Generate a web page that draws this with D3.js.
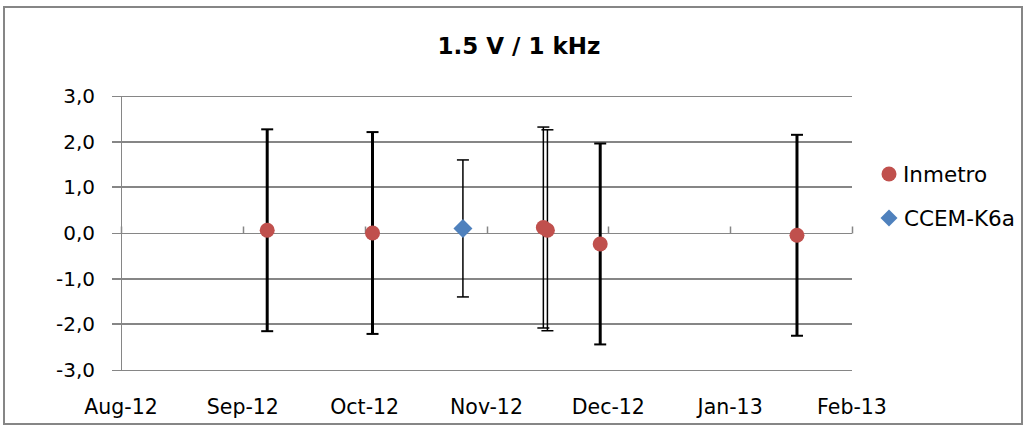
<!DOCTYPE html>
<html>
<head>
<meta charset="utf-8">
<script src="https://cdn.jsdelivr.net/npm/d3@7/dist/d3.min.js"></script>
<style>
  html, body { margin: 0; padding: 0; background: #fff; }
  svg { display: block; }
  text { font-family: "DejaVu Sans", sans-serif; fill: #000; }
</style>
</head>
<body>
<svg id="chart" width="1026" height="426"></svg>
<script>
// ---- data ----
const title = "1.5 V / 1 kHz";
const monthLabels = ["Aug-12", "Sep-12", "Oct-12", "Nov-12", "Dec-12", "Jan-13", "Feb-13"];
const yTicks = [-3, -2, -1, 0, 1, 2, 3];

const inmetroDates  = ["2012-09-07", "2012-10-03", "2012-11-15", "2012-11-16", "2012-11-29", "2013-01-18"];
const inmetroValues = [0.06, 0.00, 0.12, 0.06, -0.24, -0.05];
const inmetroU      = [2.21, 2.21, 2.20, 2.20, 2.20, 2.20];

const ccemDates  = ["2012-10-26"];
const ccemValues = [0.10];
const ccemU      = [1.50];

const seriesNames = ["Inmetro", "CCEM-K6a"];

// ---- helpers ----
function monthIndex(s) {
  const [y, m, d] = s.split("-").map(Number);
  const dim = new Date(y, m, 0).getDate();
  return (y - 2012) * 12 + (m - 8) + (d - 1) / dim;
}

const svg = d3.select("#chart");
const W = 1026, H = 426;
const plot = { left: 121, right: 852, top: 96, bottom: 370 };

const x = d3.scaleLinear().domain([0, monthLabels.length - 1]).range([plot.left, plot.right]);
const y = d3.scaleLinear().domain([-3, 3]).range([plot.bottom, plot.top]);

const grey = "#868686";
const red = "#c0504d";
const blue = "#4f81bd";

svg.append("rect").attr("width", W).attr("height", H).attr("fill", "#fff");
// chart border
svg.append("rect").attr("x", 4).attr("y", 7).attr("width", 1018).attr("height", 417)
  .attr("fill", "none").attr("stroke", grey).attr("stroke-width", 2);

// title
svg.append("text").attr("x", 519).attr("y", 54).attr("text-anchor", "middle")
  .style("font-weight", "bold").style("font-size", "23px").text(title);

// gridlines
svg.append("g").selectAll("line").data(yTicks).join("line")
  .attr("x1", plot.left - 9).attr("x2", plot.right)
  .attr("y1", d => Math.round(y(d)) + ((d === 0 || Math.abs(d) === 3) ? 0.5 : 0))
  .attr("y2", d => Math.round(y(d)) + ((d === 0 || Math.abs(d) === 3) ? 0.5 : 0))
  .attr("stroke", grey)
  .attr("stroke-width", d => (d === 0 || Math.abs(d) === 3) ? 1 : 2);

// y axis line
svg.append("line").attr("x1", plot.left + 0.5).attr("x2", plot.left + 0.5)
  .attr("y1", plot.top).attr("y2", plot.bottom).attr("stroke", grey).attr("stroke-width", 1);

// y labels
svg.append("g").selectAll("text").data(yTicks).join("text")
  .attr("x", 95).attr("y", d => y(d) + 7).attr("text-anchor", "end")
  .style("font-size", "20px").text(d => d3.format(".1f")(d).replace(".", ",").replace("\u2212", "-"));

// x axis at zero with upward ticks
const y0 = Math.round(y(0)) + 0.5;
svg.append("g").selectAll("line").data(d3.range(monthLabels.length)).join("line")
  .attr("x1", d => Math.round(x(d)) + 0.5).attr("x2", d => Math.round(x(d)) + 0.5)
  .attr("y1", y0 - 7).attr("y2", y0).attr("stroke", grey).attr("stroke-width", 1.5);

// x labels at bottom
svg.append("g").selectAll("text").data(monthLabels).join("text")
  .attr("x", (d, i) => x(i)).attr("y", 414).attr("text-anchor", "middle")
  .style("font-size", "20.5px").text(d => d);

// series data
const inmetro = inmetroDates.map((d, i) => ({ m: monthIndex(d), v: inmetroValues[i], u: inmetroU[i], thin: i === 2 || i === 3 }));
const ccem = ccemDates.map((d, i) => ({ m: monthIndex(d), v: ccemValues[i], u: ccemU[i], thin: true }));

function errorBars(data) {
  const g = svg.append("g");
  data.forEach(p => {
    const cx = x(p.m);
    const bw = p.thin ? 1.5 : 3;
    const cw = p.thin ? 1.5 : 2;
    g.append("line").attr("x1", cx).attr("x2", cx)
      .attr("y1", y(p.v + p.u)).attr("y2", y(p.v - p.u))
      .attr("stroke", "#000").attr("stroke-width", bw);
    [p.v + p.u, p.v - p.u].forEach(e => {
      g.append("line").attr("x1", cx - 6).attr("x2", cx + 6)
        .attr("y1", y(e)).attr("y2", y(e))
        .attr("stroke", "#000").attr("stroke-width", cw);
    });
  });
}
errorBars(inmetro);
errorBars(ccem);

const diamond = (cx, cy, r) => `M${cx},${cy - r}L${cx + r},${cy}L${cx},${cy + r}L${cx - r},${cy}Z`;

svg.append("g").selectAll("circle").data(inmetro).join("circle")
  .attr("cx", d => x(d.m)).attr("cy", d => y(d.v)).attr("r", 7.5).attr("fill", red);

svg.append("g").selectAll("path").data(ccem).join("path")
  .attr("d", d => diamond(x(d.m), y(d.v), 9.5)).attr("fill", blue);

// legend
const lg = svg.append("g");
lg.append("circle").attr("cx", 889).attr("cy", 174).attr("r", 7.5).attr("fill", red);
lg.append("text").attr("x", 903).attr("y", 182).style("font-size", "21.5px").text(seriesNames[0]);
lg.append("path").attr("d", diamond(889, 218, 8.5)).attr("fill", blue);
lg.append("text").attr("x", 904).attr("y", 226).style("font-size", "21.5px").text(seriesNames[1]);
</script>
</body>
</html>
